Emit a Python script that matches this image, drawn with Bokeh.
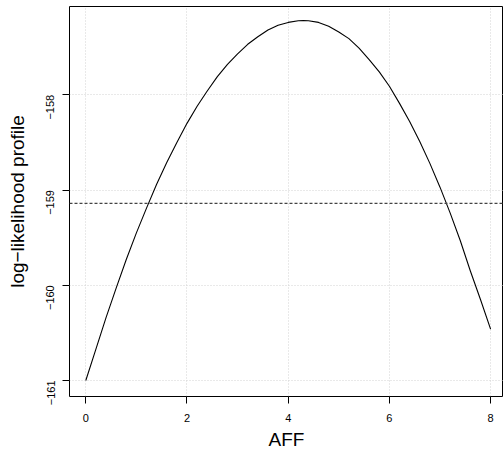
import math
from bokeh.plotting import figure
from bokeh.models import FixedTicker, Span
from bokeh.embed import file_html
from bokeh.resources import INLINE

# Profile log-likelihood for AFF
aff = [0.0, 0.2, 0.4, 0.6, 0.8, 1.0, 1.2, 1.4, 1.6, 1.8, 2.0, 2.2, 2.4,
       2.6, 2.8, 3.0, 3.2, 3.4, 3.6, 3.8, 4.0, 4.2, 4.3, 4.4, 4.6, 4.8,
       5.0, 5.2, 5.4, 5.6, 5.8, 6.0, 6.2, 6.4, 6.6, 6.8, 7.0, 7.2, 7.4,
       7.6, 7.8, 8.0]
loglik = [-161.00, -160.67, -160.34, -160.03, -159.73, -159.45, -159.19,
          -158.94, -158.71, -158.50, -158.30, -158.12, -157.96, -157.81,
          -157.68, -157.57, -157.47, -157.39, -157.32, -157.27, -157.24,
          -157.222, -157.22, -157.222, -157.24, -157.28, -157.34, -157.41,
          -157.51, -157.63, -157.76, -157.91, -158.09, -158.28, -158.49,
          -158.72, -158.97, -159.24, -159.53, -159.85, -160.15, -160.46]
cutoff = -159.14

x_ticks = [0, 2, 4, 6, 8]
x_labels = ["0", "2", "4", "6", "8"]
y_ticks = [-161, -160, -159, -158]
y_labels = ["\u2212161", "\u2212160", "\u2212159", "\u2212158"]

FONT = "Liberation Sans"

p = figure(width=503, height=454, output_backend="svg", toolbar_location=None,
           x_range=(-0.322, 8.255), y_range=(-161.168, -157.073),
           min_border_left=69, min_border_right=0, min_border_top=6,
           min_border_bottom=58, background_fill_color="white",
           border_fill_color="white")

p.outline_line_color = "black"
p.outline_line_width = 1
p.outline_line_alpha = 1

p.line(aff, loglik, line_color="black", line_width=1.1)
p.add_layout(Span(location=cutoff, dimension="width", line_color="#444444",
                  line_width=1.1, line_dash="3 2"))

for ax in (p.xaxis[0], p.yaxis[0]):
    ax.axis_line_color = None
    ax.major_tick_in = 0
    ax.major_tick_out = 7
    ax.major_tick_line_color = "black"
    ax.minor_tick_line_color = None
    ax.major_label_text_font = FONT
    ax.major_label_text_font_size = "11px"
    ax.major_label_text_color = "black"
    ax.axis_label_text_font = FONT
    ax.axis_label_text_font_style = "normal"
    ax.axis_label_text_font_size = "19px"
    ax.axis_label_text_color = "black"

p.xaxis.ticker = FixedTicker(ticks=x_ticks)
p.xaxis.major_label_overrides = {t: l for t, l in zip(x_ticks, x_labels)}
p.yaxis.ticker = FixedTicker(ticks=y_ticks)
p.yaxis.major_label_overrides = {t: l for t, l in zip(y_ticks, y_labels)}
p.yaxis.major_label_orientation = math.pi / 2

p.xaxis.axis_label = "AFF"
p.yaxis.axis_label = "log\u2212likelihood profile"
p.xaxis.major_label_standoff = 10
p.xaxis.axis_label_standoff = 4
p.yaxis.major_label_standoff = 12
p.yaxis.axis_label_standoff = 12

p.xgrid.ticker = FixedTicker(ticks=x_ticks)
p.ygrid.ticker = FixedTicker(ticks=y_ticks)
for g in (p.xgrid[0], p.ygrid[0]):
    g.grid_line_color = "#d3d3d3"
    g.grid_line_dash = "1 2"
    g.grid_line_width = 1

open("out.html", "w").write(file_html(p, INLINE))
